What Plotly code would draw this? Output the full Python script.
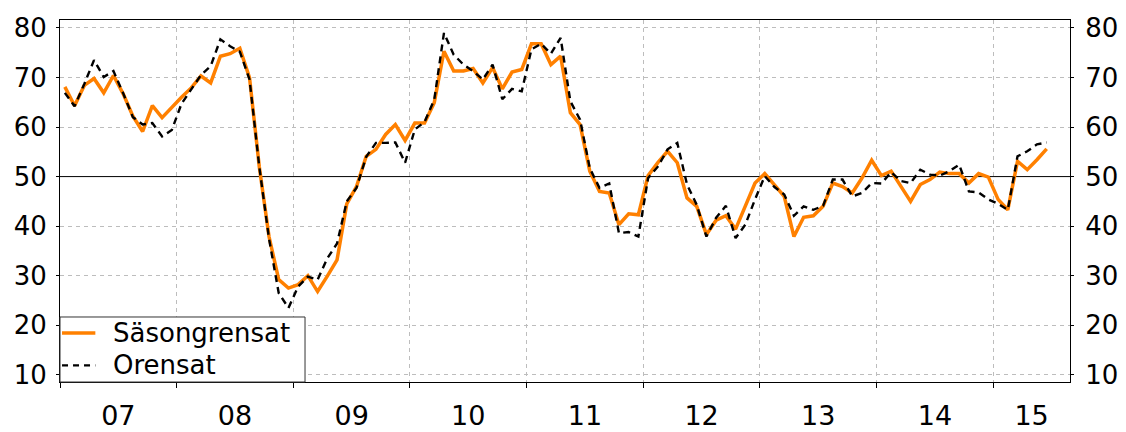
import plotly.graph_objects as go
import numpy as np

# ---- data (monthly, Jan 2007 - Jun 2015) ----
sasongrensat = [
    68.1, 64.3, 68.4, 69.8, 66.9, 70.4, 66.7, 62.2, 59.1, 64.3, 61.9, 64.0,  # 2007
    66.0, 67.9, 70.3, 68.9, 74.3, 74.8, 75.9, 69.9, 52.0, 37.9, 29.2, 27.5,  # 2008
    28.2, 30.0, 26.8, 29.9, 33.2, 44.5, 48.0, 54.1, 55.5, 58.5, 60.5, 57.3,  # 2009
    60.8, 60.8, 64.9, 75.3, 71.3, 71.3, 71.8, 68.9, 72.0, 67.7, 71.1, 71.6,  # 2010
    76.8, 76.8, 72.6, 74.3, 62.9, 60.5, 51.1, 47.0, 46.7, 40.3, 42.5, 42.3,  # 2011
    50.2, 52.8, 55.1, 52.8, 45.7, 44.0, 38.3, 41.2, 42.1, 39.4, 44.0, 48.7,  # 2012
    50.6, 48.2, 46.0, 37.9, 41.8, 42.1, 44.0, 48.7, 48.0, 46.7, 49.7, 53.3,  # 2013
    50.2, 51.1, 48.2, 45.0, 48.4, 49.4, 50.9, 50.6, 50.6, 48.7, 50.6, 49.9,  # 2014
    45.4, 43.3, 53.1, 51.4, 53.4, 55.6,                                      # 2015
]
orensat = [
    66.9, 64.2, 68.7, 73.5, 70.1, 71.3, 66.8, 62.0, 60.5, 60.8, 58.1, 59.4,  # 2007
    64.7, 67.5, 70.5, 72.3, 77.7, 76.3, 75.2, 69.6, 52.0, 37.5, 26.5, 23.5,  # 2008
    27.8, 29.8, 29.2, 33.5, 36.5, 45.0, 47.7, 54.0, 56.8, 56.8, 56.9, 52.8,  # 2009
    59.5, 61.0, 65.5, 79.0, 74.6, 72.6, 71.3, 69.6, 72.6, 65.6, 67.7, 67.2,  # 2010
    75.7, 76.8, 74.8, 78.0, 65.2, 61.5, 51.7, 47.7, 48.6, 38.6, 38.8, 37.9,  # 2011
    49.7, 52.0, 55.5, 56.8, 48.4, 44.3, 37.9, 41.7, 44.1, 37.6, 40.3, 45.4,  # 2012
    50.1, 47.9, 46.4, 42.1, 44.0, 43.3, 44.1, 49.4, 49.4, 46.0, 46.7, 48.7,  # 2013
    48.6, 50.9, 49.1, 48.7, 51.4, 50.4, 50.2, 51.1, 52.4, 47.0, 46.8, 45.4,  # 2014
    44.5, 43.3, 54.1, 55.1, 56.5, 56.9,                                      # 2015
]
year_labels = ["07", "08", "09", "10", "11", "12", "13", "14", "15"]
y_ticks = [10, 20, 30, 40, 50, 60, 70, 80]
ref_level = 50
series_names = ["Säsongrensat", "Orensat"]

# ---- styles ----
ORANGE = "#FF8000"
FONT = "DejaVu Sans, Arial, sans-serif"
DASH = "7px,5px"
GRID = dict(showgrid=True, gridcolor="#BDBDBD", gridwidth=1, griddash="4px,4px")

# ---- positions derived from data ----
n = len(sasongrensat)
x = np.arange(n) + 0.5          # mid-month positions, month index
x_max = 103.9
y_range = [8.55, 81.6]
year_bounds = [12 * k for k in range(len(year_labels))]
label_pos = [min(12 * k + 6, (12 * k + x_max) / 2) for k in range(len(year_labels))]
y_grid = [v for v in y_ticks if v != ref_level]

fig = go.Figure()
fig.add_trace(go.Scatter(
    x=x, y=sasongrensat, name=series_names[0], mode="lines",
    line=dict(color=ORANGE, width=3.5), showlegend=False,
))
fig.add_trace(go.Scatter(
    x=x, y=orensat, name=series_names[1], mode="lines",
    line=dict(color="black", width=2.4, dash=DASH), showlegend=False,
))
# invisible helper trace so the overlay axes are drawn
fig.add_trace(go.Scatter(x=[x[0]], y=[sasongrensat[0]], xaxis="x2", yaxis="y2",
                         mode="markers", marker=dict(opacity=0), showlegend=False,
                         hoverinfo="skip"))

# reference line at 50
fig.add_shape(type="line", xref="paper", x0=0, x1=1, yref="y", y0=ref_level, y1=ref_level,
              line=dict(color="black", width=1), layer="below")

# ---- legend box (bottom-left, drawn in paper coordinates) ----
leg_w, leg_h = 0.2426, 0.1796
fig.add_shape(type="rect", xref="paper", yref="paper", x0=0, x1=leg_w, y0=0, y1=leg_h,
              fillcolor="white", line=dict(color="#333333", width=1), layer="above")
rows = [0.1354, 0.046]
styles = [dict(color=ORANGE, width=3.5), dict(color="black", width=2.4, dash="6px,5px")]
for name, yy, st in zip(series_names, rows, styles):
    fig.add_shape(type="line", xref="paper", yref="paper", x0=0.002, x1=0.035,
                  y0=yy, y1=yy, line=st, layer="above")
    fig.add_annotation(xref="paper", yref="paper", x=0.0505, y=yy, text=name,
                       showarrow=False, xanchor="left", yanchor="middle",
                       font=dict(family=FONT, size=26, color="black"))

fig.update_layout(
    width=1126, height=432,
    margin=dict(l=60, r=56, t=20, b=50, autoexpand=False),
    paper_bgcolor="white", plot_bgcolor="white",
    font=dict(family=FONT, size=26, color="black"),
    showlegend=False,
    xaxis=dict(
        range=[0, x_max], tickmode="array", tickvals=year_bounds,
        showticklabels=False, ticks="outside", ticklen=5, tickcolor="black",
        showline=True, linecolor="black", linewidth=1, mirror=True,
        zeroline=False, automargin=False, **GRID,
    ),
    xaxis2=dict(
        overlaying="x", anchor="y", side="bottom", range=[0, x_max],
        tickmode="array", tickvals=label_pos, ticktext=year_labels,
        ticks="", showgrid=False, showline=False, zeroline=False,
        tickfont=dict(size=27), ticklabelstandoff=15, automargin=False,
    ),
    yaxis=dict(
        range=y_range, tickmode="array", tickvals=y_ticks,
        ticks="outside", ticklen=3, tickcolor="black", showgrid=False,
        minor=dict(tickmode="array", tickvals=y_grid, ticks="", **GRID),
        showline=True, linecolor="black", linewidth=1, mirror=True,
        zeroline=False, tickfont=dict(size=26), ticklabelstandoff=4,
        automargin=False,
    ),
    yaxis2=dict(
        overlaying="y", side="right", anchor="x", range=y_range,
        tickmode="array", tickvals=y_ticks,
        ticks="outside", ticklen=3, tickcolor="black",
        showgrid=False, showline=False, zeroline=False,
        tickfont=dict(size=26), ticklabelstandoff=6, automargin=False,
    ),
)

fig.write_html("out.html", config={"displayModeBar": False},
               post_script="document.body.style.margin='0';")
